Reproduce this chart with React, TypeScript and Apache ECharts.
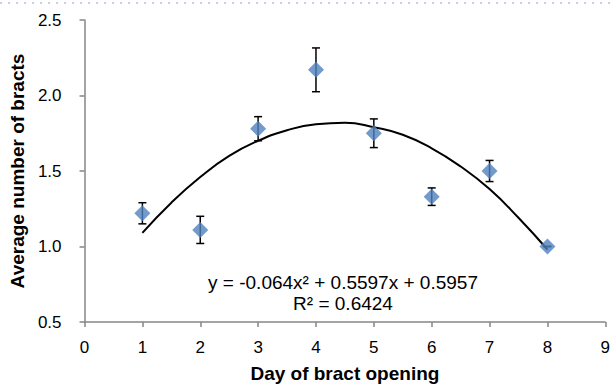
import React, { useEffect, useRef } from "react";
import * as echarts from "echarts";

const days = [1, 2, 3, 4, 5, 6, 7, 8];
const meanBracts = [1.22, 1.11, 1.78, 2.17, 1.75, 1.33, 1.5, 1.0];
const errorSize = [0.07, 0.09, 0.08, 0.145, 0.095, 0.058, 0.07, 0.0];
const trendX = [1, 1.5, 2, 2.5, 3, 3.5, 4, 4.5, 5, 5.5, 6, 6.5, 7, 7.5, 8];
const trendY = [1.09, 1.29, 1.46, 1.6, 1.7, 1.77, 1.81, 1.82, 1.79, 1.74, 1.65, 1.53, 1.38, 1.19, 0.98];
const xTicks = [0, 1, 2, 3, 4, 5, 6, 7, 8, 9];
const yTicks = [0.5, 1.0, 1.5, 2.0, 2.5];
const equationText = "y = -0.064x² + 0.5597x + 0.5957";
const r2Text = "R² = 0.6424";

export default function App() {
  const ref = useRef<HTMLDivElement>(null);
  useEffect(() => {
    if (!ref.current) return;
    const chart = echarts.init(ref.current, null, { renderer: "svg" });
    const font = "'Liberation Sans', Arial, sans-serif";
    const axisColor = "#868686";
    chart.setOption({
      animation: false,
      textStyle: { fontFamily: font },
      grid: { left: 80, right: 3, top: 20, bottom: 64, containLabel: false },
      xAxis: {
        type: "value",
        min: xTicks[0],
        max: xTicks[xTicks.length - 1],
        interval: 1,
        name: "Day of bract opening",
        nameLocation: "middle",
        nameGap: 42,
        nameTextStyle: { fontSize: 19, fontWeight: "bold", color: "#000", fontFamily: font },
        axisLine: { lineStyle: { color: axisColor, width: 1.5 } },
        axisTick: { show: true, inside: false, length: 5, lineStyle: { color: axisColor, width: 1.5 } },
        axisLabel: { fontSize: 17, color: "#000", margin: 17, fontFamily: font },
        splitLine: { show: false },
      },
      yAxis: {
        type: "value",
        min: yTicks[0],
        max: yTicks[yTicks.length - 1],
        interval: 0.5,
        name: "Average number of bracts",
        nameLocation: "middle",
        nameGap: 50,
        nameTextStyle: { fontSize: 19, fontWeight: "bold", color: "#000", fontFamily: font },
        axisLine: { show: true, lineStyle: { color: axisColor, width: 1.5 } },
        axisTick: { show: true, inside: false, length: 5, lineStyle: { color: axisColor, width: 1.5 } },
        axisLabel: {
          fontSize: 17,
          color: "#000",
          margin: 23,
          fontFamily: font,
          formatter: (v: number) => v.toFixed(1),
        },
        splitLine: { show: false },
      },
      series: [
        {
          type: "line",
          data: trendX.map((x, i) => [x, trendY[i]]),
          smooth: true,
          showSymbol: false,
          symbol: "none",
          lineStyle: { color: "#000", width: 2 },
          z: 2,
        },
        {
          type: "custom",
          data: days.map((d, i) => [d, meanBracts[i] - errorSize[i], meanBracts[i] + errorSize[i]]),
          renderItem: (params: any, api: any) => {
            const x = api.value(0);
            const lo = api.coord([x, api.value(1)]);
            const hi = api.coord([x, api.value(2)]);
            const cap = 4;
            const style = { stroke: "#000", lineWidth: 1.5 };
            return {
              type: "group",
              children: [
                { type: "line", shape: { x1: lo[0], y1: lo[1], x2: hi[0], y2: hi[1] }, style },
                { type: "line", shape: { x1: lo[0] - cap, y1: lo[1], x2: lo[0] + cap, y2: lo[1] }, style },
                { type: "line", shape: { x1: hi[0] - cap, y1: hi[1], x2: hi[0] + cap, y2: hi[1] }, style },
              ],
            };
          },
          z: 3,
        },
        {
          type: "scatter",
          data: days.map((d, i) => [d, meanBracts[i]]),
          symbol: "diamond",
          symbolSize: 16,
          itemStyle: { color: "#4F81BD" },
          z: 4,
        },
      ],
      graphic: [
        {
          type: "line",
          shape: { x1: 0, y1: 3, x2: 613, y2: 3 },
          style: { stroke: "#c3d3e2", lineWidth: 2, lineDash: [2, 6] },
          silent: true,
        },
        {
          type: "text",
          x: 343,
          y: 282,
          style: {
            text: equationText,
            fontSize: 19,
            fontFamily: font,
            fill: "#000",
            textAlign: "center",
            textVerticalAlign: "middle",
          },
        },
        {
          type: "text",
          x: 343,
          y: 303,
          style: {
            text: r2Text,
            fontSize: 19,
            fontFamily: font,
            fill: "#000",
            textAlign: "center",
            textVerticalAlign: "middle",
          },
        },
      ],
    });
    return () => chart.dispose();
  }, []);
  return (
    <div
      ref={ref}
      style={{ position: "fixed", left: 0, top: 0, width: 613, height: 388, background: "#fff" }}
    />
  );
}
